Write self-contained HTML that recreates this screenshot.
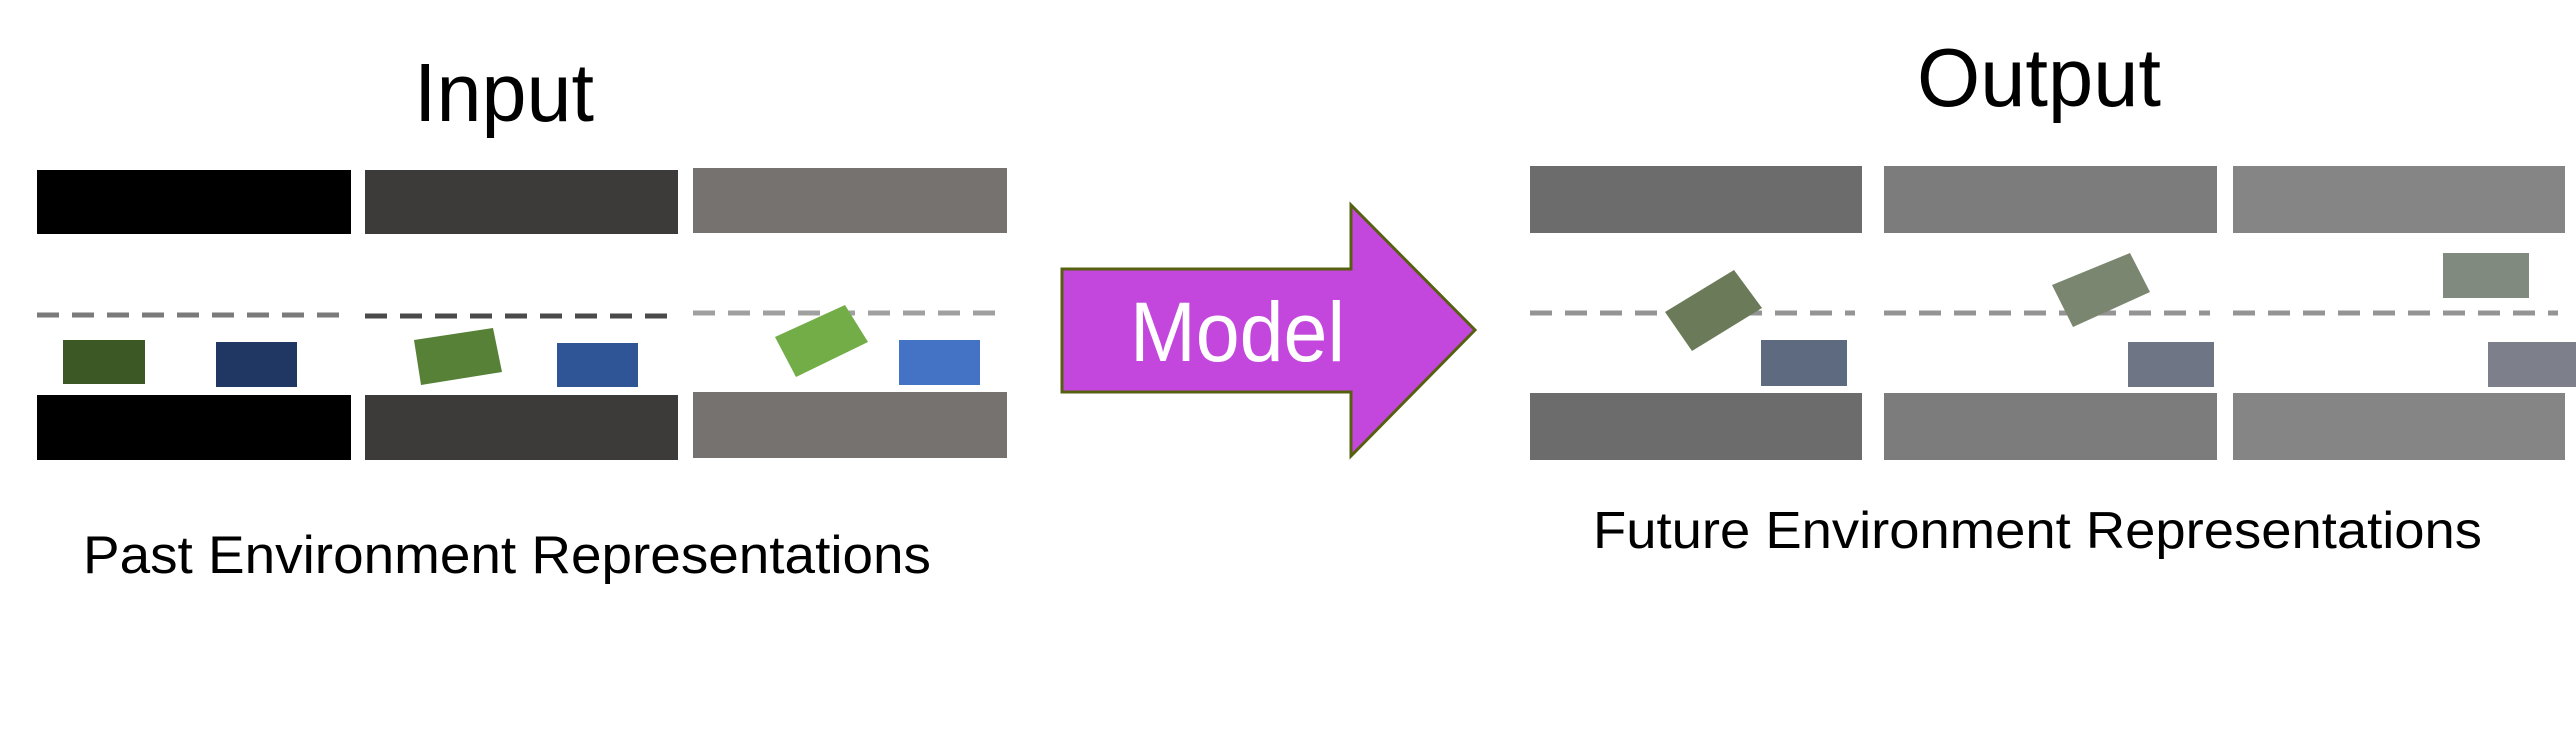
<!DOCTYPE html>
<html><head><meta charset="utf-8"><style>html,body{margin:0;padding:0;background:#fff}svg{display:block}</style></head>
<body>
<svg width="2576" height="734" viewBox="0 0 2576 734" xmlns="http://www.w3.org/2000/svg" font-family="Liberation Sans, Arial, sans-serif">
<rect width="2576" height="734" fill="#fff"/>
<!-- Input -->
<text x="414" y="121" font-size="83" textLength="180" lengthAdjust="spacingAndGlyphs">Input</text>
<rect x="37" y="170" width="314" height="64" fill="#000"/>
<rect x="365" y="170" width="313" height="64" fill="#3c3b3a"/>
<rect x="693" y="168" width="314" height="65" fill="#767270"/>
<rect x="37" y="395" width="314" height="65" fill="#000"/>
<rect x="365" y="395" width="313" height="65" fill="#3c3b3a"/>
<rect x="693" y="392" width="314" height="66" fill="#767270"/>
<line x1="37" y1="315" x2="343" y2="315" stroke="#7a7a7a" stroke-width="5" stroke-dasharray="22,13"/>
<line x1="365" y1="316" x2="670" y2="316" stroke="#4a4a4a" stroke-width="5" stroke-dasharray="22,13"/>
<line x1="693" y1="313" x2="1000" y2="313" stroke="#a0a0a0" stroke-width="5" stroke-dasharray="22,13"/>
<rect x="63" y="340" width="82" height="44" fill="#3c5825"/>
<rect x="216" y="342" width="81" height="45" fill="#213763"/>
<polygon points="414,340 493,328 502,372 421,385" fill="#568136"/>
<rect x="557" y="343" width="81" height="44" fill="#2f5596"/>
<polygon points="775,337 845,305 868,342 796,377" fill="#72ad48"/>
<rect x="899" y="340" width="81" height="45" fill="#4472c4"/>
<text x="83" y="573" font-size="53" textLength="848" lengthAdjust="spacingAndGlyphs">Past Environment Representations</text>
<!-- Arrow -->
<polygon points="1062,269 1351,269 1351,205 1475,330 1351,456 1351,392 1062,392" fill="#c447dd" stroke="#566010" stroke-width="3"/>
<text x="1130" y="361" font-size="84" fill="#fff" textLength="215" lengthAdjust="spacingAndGlyphs">Model</text>
<!-- Output -->
<text x="1917" y="106" font-size="83" textLength="244" lengthAdjust="spacingAndGlyphs">Output</text>
<rect x="1530" y="166" width="332" height="67" fill="#6d6c6d"/>
<rect x="1884" y="166" width="333" height="67" fill="#7c7c7c"/>
<rect x="2233" y="166" width="332" height="67" fill="#858585"/>
<rect x="1530" y="393" width="332" height="67" fill="#6d6c6d"/>
<rect x="1884" y="393" width="333" height="67" fill="#7c7c7c"/>
<rect x="2233" y="393" width="332" height="67" fill="#858585"/>
<line x1="1530" y1="313" x2="1855" y2="313" stroke="#949494" stroke-width="5" stroke-dasharray="22,13"/>
<line x1="1884" y1="313" x2="2210" y2="313" stroke="#949494" stroke-width="5" stroke-dasharray="22,13"/>
<line x1="2233" y1="313" x2="2558" y2="313" stroke="#949494" stroke-width="5" stroke-dasharray="22,13"/>
<polygon points="1734,270 1762,308 1692,351 1665,312" fill="#6b7b5a"/>
<rect x="1761" y="340" width="86" height="46" fill="#5e6a80"/>
<polygon points="2130,253 2150,292 2073,327 2052,285" fill="#7b8670"/>
<rect x="2128" y="342" width="86" height="45" fill="#6e7585"/>
<rect x="2443" y="253" width="86" height="45" fill="#818a7e"/>
<rect x="2488" y="342" width="88" height="45" fill="#7d808a"/>
<text x="1593" y="548" font-size="52" textLength="889" lengthAdjust="spacingAndGlyphs">Future Environment Representations</text>
</svg>
</body></html>
